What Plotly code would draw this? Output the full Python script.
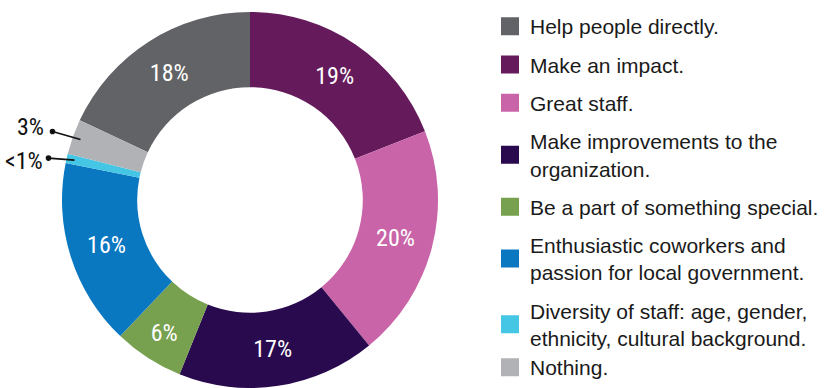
import math
import plotly.graph_objects as go

categories = [
    "Help people directly.",
    "Make an impact.",
    "Great staff.",
    "Make improvements to the<br>organization.",
    "Be a part of something special.",
    "Enthusiastic coworkers and<br>passion for local government.",
    "Diversity of staff: age, gender,<br>ethnicity, cultural background.",
    "Nothing.",
]
values = [18, 19, 20, 17, 6, 16, 0.8, 3]
pct_labels = ["18%", "19%", "20%", "17%", "6%", "16%", "<1%", "3%"]
colors = ["#626366", "#651b5b", "#c964a8", "#2a0a4e", "#77a14e", "#0a77c1", "#44c6e4", "#b0b2b5"]

W, H = 830, 388
CX, CY, R = 250, 200, 188
HOLE = 0.60
NARROW = "Roboto Condensed"
LEGEND_FONT = "Liberation Sans"

total = sum(values)
rotation = -360.0 * values[0] / total  # second slice starts at 12 o'clock

inside_text = [t if v >= 5 else "" for t, v in zip(pct_labels, values)]

fig = go.Figure()
fig.add_trace(go.Pie(
    values=values,
    labels=categories,
    text=inside_text,
    textinfo="text",
    textposition="inside",
    insidetextorientation="horizontal",
    textfont=dict(family=NARROW, size=24, color="white"),
    marker=dict(colors=colors, line=dict(width=0)),
    hole=HOLE,
    sort=False,
    direction="clockwise",
    rotation=rotation,
    showlegend=False,
    domain=dict(x=[(CX - R) / W, (CX + R) / W], y=[(H - CY - R) / H, (H - CY + R) / H]),
))

# legend entries (last entry in its own legend box so it can sit at the bottom edge)
for i, (cat, col) in enumerate(zip(categories, colors)):
    fig.add_trace(go.Scatter(
        x=[None], y=[None], mode="markers", name=cat,
        marker=dict(symbol="square", size=16, color=col, line=dict(color=col, width=2)),
        legendgroup=cat, showlegend=True, hoverinfo="skip",
        legend="legend2" if i == len(categories) - 1 else "legend",
    ))

# callouts for small slices: (dot offset from slice point, text offset from dot)
annotations = []
shapes = []
cum = 0.0
dot_offsets = {"<1%": (-26, -2), "3%": (-28, -8)}
text_offsets = {"<1%": (-3, 3), "3%": (-6, -4)}
for v, lab in zip(values, pct_labels):
    start = rotation + 360.0 * cum / total
    cum += v
    if v >= 5:
        continue
    mid = math.radians(start + 180.0 * v / total)
    rr = 180
    px = CX + rr * math.sin(mid)
    py = CY - rr * math.cos(mid)
    dx, dy = dot_offsets[lab]
    dotx, doty = px + dx, py + dy
    shapes.append(dict(type="line", xref="paper", yref="paper",
                       x0=dotx / W, y0=1 - doty / H, x1=px / W, y1=1 - py / H,
                       line=dict(color="#111111", width=1.6)))
    shapes.append(dict(type="circle", xref="paper", yref="paper",
                       xsizemode="pixel", ysizemode="pixel",
                       xanchor=dotx / W, yanchor=1 - doty / H,
                       x0=-2.8, x1=2.8, y0=-2.8, y1=2.8,
                       fillcolor="#111111", line=dict(width=0)))
    tx, ty = text_offsets[lab]
    annotations.append(dict(xref="paper", yref="paper", x=(dotx + tx) / W, y=1 - (doty + ty) / H,
                            xanchor="right", yanchor="middle", showarrow=False,
                            text=lab, font=dict(family=NARROW, size=24, color="#111111")))

legend_common = dict(
    xanchor="left", yanchor="top",
    font=dict(family=LEGEND_FONT, size=21, color="#1a1a1a"),
    tracegroupgap=8, itemclick=False, itemdoubleclick=False,
    bgcolor="rgba(0,0,0,0)",
)

fig.update_layout(
    width=W, height=H,
    margin=dict(l=0, r=0, t=0, b=0),
    paper_bgcolor="white", plot_bgcolor="white",
    xaxis=dict(visible=False), yaxis=dict(visible=False),
    shapes=shapes, annotations=annotations,
    legend=dict(x=490 / W, y=1.0 - 6 / H, **legend_common),
    legend2=dict(x=490 / W, y=0.0, **{**legend_common, "yanchor": "bottom"}),
)

fig.write_html("out.html")
